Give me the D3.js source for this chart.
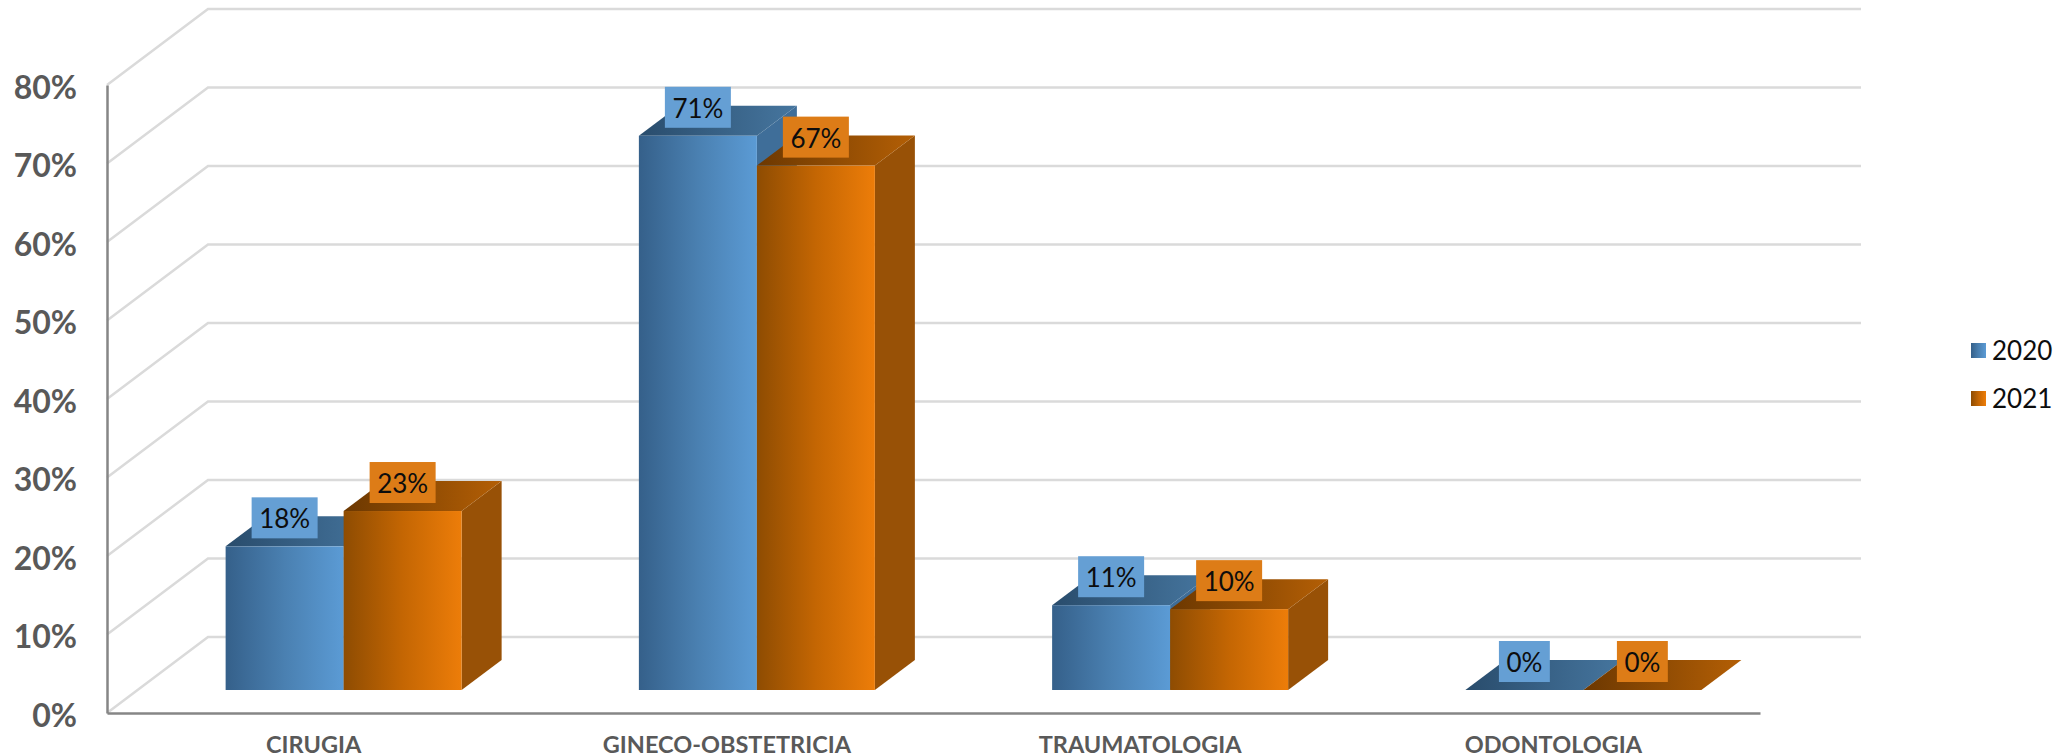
<!DOCTYPE html>
<html><head><meta charset="utf-8">
<script src="https://cdn.jsdelivr.net/npm/d3@7/dist/d3.min.js"></script>
<style>html,body{margin:0;padding:0;background:#fff;overflow:hidden}svg{display:block}text{font-family:Lato,sans-serif}</style>
</head><body><svg id="c" width="2059" height="756"></svg>
<script>
const categories = ["CIRUGIA","GINECO-OBSTETRICIA","TRAUMATOLOGIA","ODONTOLOGIA"];
const seriesNames = ["2020","2021"];
const values2020 = [0.183,0.706,0.108,0];
const values2021 = [0.228,0.668,0.103,0];
const labels2020 = ["18%","71%","11%","0%"];
const labels2021 = ["23%","67%","10%","0%"];
const yTicks = [0,0.1,0.2,0.3,0.4,0.5,0.6,0.7,0.8];

const svg = d3.select("#c");
const plotL=107,plotR=1760,plotT=85,plotB=713;
const wallDx=101,wallDy=-76;
const frontDx=30,frontDy=-23, depthDx=40, depthDy=-30;
const barW=118;
const y=d3.scaleLinear().domain([0,0.8]).range([plotB,plotT]);
const x=d3.scaleBand().domain(categories).range([plotL,plotR]);
const xs=d3.scaleBand().domain(seriesNames).range([-barW,barW]);

const defs=svg.append("defs");
function grad(id,stops,x2=1,y2=0){
  const g=defs.append("linearGradient").attr("id",id).attr("x1",0).attr("y1",0).attr("x2",x2).attr("y2",y2);
  stops.forEach((c,i)=>g.append("stop").attr("offset",i/(stops.length-1)).attr("stop-color",c));
}
grad("front2020",["#35608a","#4a80b1","#5b9bd5"]);
grad("front2021",["#8e4c02","#c46603","#ed7d09"]);
grad("top2020",["#294c6c","#46769f"]);
grad("top2021",["#6c3801","#b45f05"]);
const palette={"2020":{front:"url(#front2020)",top:"url(#top2020)",side:"#3f6e99",box:"#659fd4"},
             "2021":{front:"url(#front2021)",top:"url(#top2021)",side:"#985106",box:"#dd7c17"}};

// walls and gridlines
const grid=svg.append("g").attr("fill","none").attr("stroke","#dadada").attr("stroke-width",2.5);
grid.selectAll("path").data(yTicks).join("path")
  .attr("d",t=>`M${plotL},${y(t)}L${plotL+wallDx},${y(t)+wallDy}L${plotR+wallDx},${y(t)+wallDy}`);

// axes
const ay=svg.append("g").attr("transform",`translate(${plotL},0)`)
  .call(d3.axisLeft(y).tickValues(yTicks).tickFormat(d3.format(".0%")).tickSize(0).tickPadding(30));
const ax=svg.append("g").attr("transform",`translate(0,${plotB})`)
  .call(d3.axisBottom(x).tickSize(0).tickPadding(23));
[ay,ax].forEach(a=>a.select(".domain").attr("stroke","#868686").attr("stroke-width",2.5));
ay.selectAll("text").attr("font-size",32).attr("font-weight",700).attr("fill","#595959").attr("font-family","Lato").attr("dy","0.42em");
ax.selectAll("text").attr("font-size",23.5).attr("font-weight",700).attr("fill","#595959").attr("font-family","Lato");

// bars
const rows=categories.flatMap((c,i)=>[
  {c,s:"2020",v:values2020[i],l:labels2020[i]},
  {c,s:"2021",v:values2021[i],l:labels2021[i]}]);
const bx=d=>x(d.c)+x.bandwidth()/2+frontDx+xs(d.s);
const by0=()=>y(0)+frontDy;
const by1=d=>y(d.v)+frontDy;
const bars=svg.append("g").selectAll("g").data(rows).join("g");
bars.append("path").attr("fill",d=>palette[d.s].side)
  .attr("d",d=>`M${bx(d)+barW},${by1(d)}l${depthDx},${depthDy}L${bx(d)+barW+depthDx},${by0()+depthDy}L${bx(d)+barW},${by0()}Z`);
bars.append("path").attr("fill",d=>palette[d.s].top)
  .attr("d",d=>`M${bx(d)},${by1(d)}l${depthDx},${depthDy}h${barW}l${-depthDx},${-depthDy}Z`);
bars.append("rect").attr("fill",d=>palette[d.s].front)
  .attr("x",bx).attr("y",by1).attr("width",barW).attr("height",d=>by0()-by1(d));

// data labels
const lab=svg.append("g").selectAll("g").data(rows).join("g")
  .attr("transform",d=>`translate(${bx(d)+barW/2},${by1(d)-28.5})`);
lab.append("text").attr("text-anchor","middle").attr("dy","0.4em").attr("font-size",26).attr("fill","#0d0d0d").text(d=>d.l);
lab.insert("rect","text").attr("fill",d=>palette[d.s].box)
  .each(function(d){
    const w=this.parentNode.querySelector("text").getComputedTextLength()+15;
    d3.select(this).attr("x",-w/2).attr("y",-20.5).attr("width",w).attr("height",41);
  });

// legend
const legY=d3.scalePoint().domain(seriesNames).range([350.5,398.5]);
const leg=svg.append("g").selectAll("g").data(seriesNames).join("g").attr("transform",d=>`translate(1971,${legY(d)})`);
leg.append("rect").attr("y",-7.5).attr("width",15).attr("height",15).attr("fill",d=>palette[d].front);
leg.append("text").attr("x",21).attr("dy","0.38em").attr("font-size",26).attr("fill","#0d0d0d").text(d=>d);
</script></body></html>
